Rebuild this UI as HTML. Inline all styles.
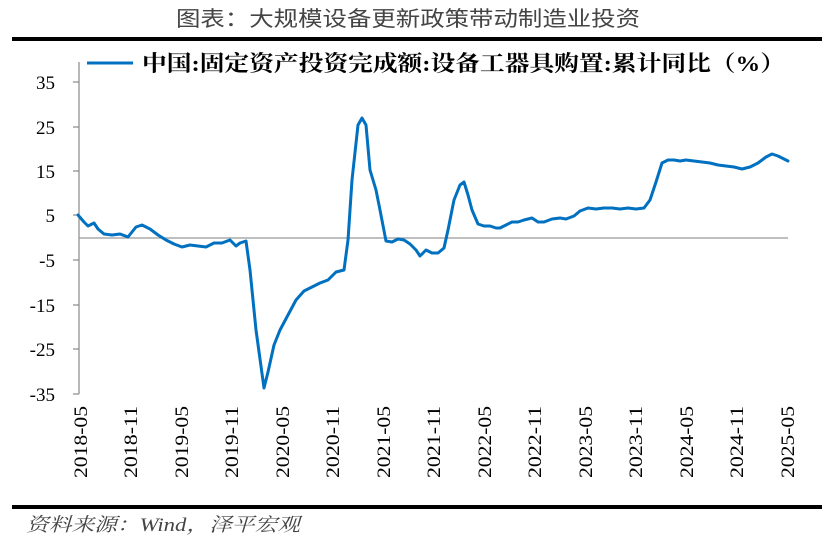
<!DOCTYPE html>
<html><head><meta charset="utf-8"><style>
body{margin:0;background:#fff;}
svg{display:block;font-family:"Liberation Serif","Noto Serif CJK SC",serif;}
</style></head><body>
<svg width="825" height="546" viewBox="0 0 825 546">
<text x="176" y="26" textLength="464" lengthAdjust="spacingAndGlyphs" font-size="21" fill="#444" font-family="'Noto Sans CJK SC','Noto Serif CJK SC',sans-serif">图表：大规模设备更新政策带动制造业投资</text>
<rect x="12" y="37" width="810" height="4" fill="#000"/>
<rect x="12" y="505" width="810" height="4" fill="#000"/>
<text x="26" y="531" textLength="274" lengthAdjust="spacingAndGlyphs" font-size="19" fill="#444" font-style="italic" font-family="'Liberation Serif','Noto Serif CJK SC',serif">资料来源：Wind，泽平宏观</text>
<line x1="87" y1="63" x2="133" y2="63" stroke="#0070C0" stroke-width="3"/>
<text x="142" y="71" textLength="643" lengthAdjust="spacingAndGlyphs" font-size="22" font-weight="bold" fill="#000" font-family="'Liberation Serif','Noto Serif CJK SC',serif">中国:固定资产投资完成额:设备工器具购置:累计同比（%）</text>
<g stroke="#888" stroke-width="1.2">
<line x1="79" y1="62" x2="79" y2="394"/>
<line x1="79" y1="238" x2="788" y2="238" stroke="#999"/>
<line x1="73" y1="82" x2="79" y2="82"/><line x1="73" y1="127" x2="79" y2="127"/>
<line x1="73" y1="171" x2="79" y2="171"/><line x1="73" y1="215" x2="79" y2="215"/>
<line x1="73" y1="260" x2="79" y2="260"/><line x1="73" y1="305" x2="79" y2="305"/>
<line x1="73" y1="349" x2="79" y2="349"/><line x1="73" y1="394" x2="79" y2="394"/>
</g>
<g font-size="19" text-anchor="end" fill="#000">
<text x="55" y="89">35</text><text x="55" y="134">25</text><text x="55" y="178">15</text><text x="55" y="222">5</text>
<text x="55" y="267">-5</text><text x="55" y="312">-15</text><text x="55" y="356">-25</text><text x="55" y="401">-35</text>
</g>
<g font-size="19" fill="#000">
<text transform="translate(87,478) rotate(-90)" textLength="72" lengthAdjust="spacingAndGlyphs">2018-05</text>
<text transform="translate(137,478) rotate(-90)" textLength="72" lengthAdjust="spacingAndGlyphs">2018-11</text>
<text transform="translate(188,478) rotate(-90)" textLength="72" lengthAdjust="spacingAndGlyphs">2019-05</text>
<text transform="translate(238,478) rotate(-90)" textLength="72" lengthAdjust="spacingAndGlyphs">2019-11</text>
<text transform="translate(289,478) rotate(-90)" textLength="72" lengthAdjust="spacingAndGlyphs">2020-05</text>
<text transform="translate(339,478) rotate(-90)" textLength="72" lengthAdjust="spacingAndGlyphs">2020-11</text>
<text transform="translate(390,478) rotate(-90)" textLength="72" lengthAdjust="spacingAndGlyphs">2021-05</text>
<text transform="translate(440,478) rotate(-90)" textLength="72" lengthAdjust="spacingAndGlyphs">2021-11</text>
<text transform="translate(491,478) rotate(-90)" textLength="72" lengthAdjust="spacingAndGlyphs">2022-05</text>
<text transform="translate(541,478) rotate(-90)" textLength="72" lengthAdjust="spacingAndGlyphs">2022-11</text>
<text transform="translate(592,478) rotate(-90)" textLength="72" lengthAdjust="spacingAndGlyphs">2023-05</text>
<text transform="translate(642,478) rotate(-90)" textLength="72" lengthAdjust="spacingAndGlyphs">2023-11</text>
<text transform="translate(693,478) rotate(-90)" textLength="72" lengthAdjust="spacingAndGlyphs">2024-05</text>
<text transform="translate(743,478) rotate(-90)" textLength="72" lengthAdjust="spacingAndGlyphs">2024-11</text>
<text transform="translate(794,478) rotate(-90)" textLength="72" lengthAdjust="spacingAndGlyphs">2025-05</text>
</g>
<polyline fill="none" stroke="#0070C0" stroke-width="3" stroke-linejoin="round" stroke-linecap="round" points="78,215 84,222 88,226 94,223 98,229 104,234 112,235 120,234 128,237 136,227 142,225 150,229 158,235 166,240 174,244 182,247 190,245 198,246 206,247 214,243 222,243 230,240 236,246 240,243 246,241 250,270 256,330 264,388 268,372 274,345 280,330 288,315 296,300 304,291 312,287 320,283 328,280 336,272 344,270 348,240 352,180 358,125 362,118 366,125 370,170 376,190 380,210 386,241 392,242 398,239 404,240 410,244 416,250 420,256 426,250 432,253 438,253 444,248 448,230 454,200 460,185 464,182 468,195 472,210 478,224 484,226 490,226 496,228 500,228 506,225 512,222 518,222 524,220 532,218 538,222 544,222 552,219 560,218 566,219 574,216 580,211 588,208 596,209 604,208 612,208 620,209 628,208 636,209 644,208 650,200 656,182 662,163 668,160 674,160 680,161 686,160 694,161 702,162 710,163 718,165 726,166 734,167 742,169 750,167 758,163 766,157 772,154 778,156 782,158 788,161"/>
</svg>
</body></html>
